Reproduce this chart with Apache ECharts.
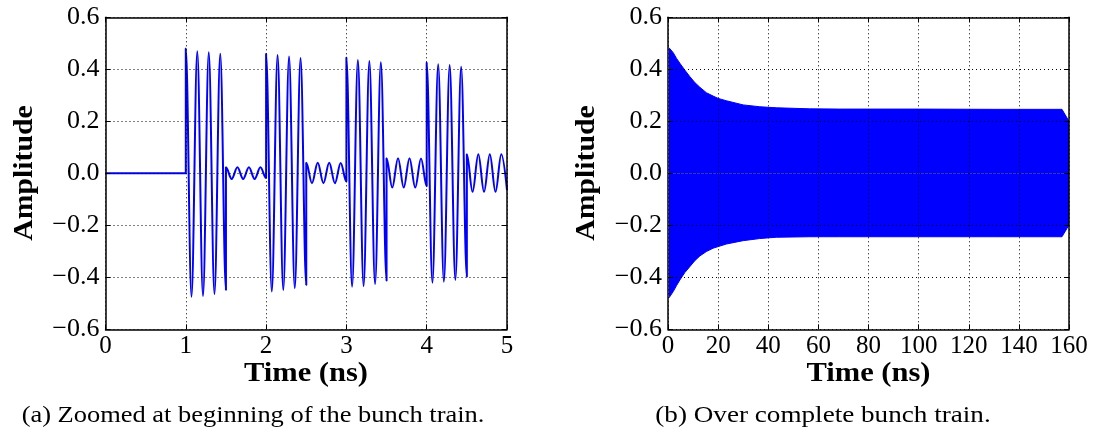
<!DOCTYPE html>
<html><head><meta charset="utf-8">
<script src="https://cdn.jsdelivr.net/npm/echarts@6/dist/echarts.min.js"></script>
<style>html,body{margin:0;padding:0;background:#fff}#c{width:1098px;height:439px}</style>
</head><body><div id="c"></div>
<script>
// ---- Panel (a): extrema of the zoomed waveform (time in ns, amplitude) ----
const zoomTime = [
  0, 1.0,
  1.0, 1.071, 1.143, 1.214, 1.286, 1.357, 1.429, 1.5,
  1.5, 1.571, 1.643, 1.714, 1.786, 1.857, 1.929, 2.0,
  2.0, 2.071, 2.143, 2.214, 2.286, 2.357, 2.429, 2.5,
  2.5, 2.571, 2.643, 2.714, 2.786, 2.857, 2.929, 3.0,
  3.0, 3.071, 3.143, 3.214, 3.286, 3.357, 3.429, 3.5,
  3.5, 3.571, 3.643, 3.714, 3.786, 3.857, 3.929, 4.0,
  4.0, 4.071, 4.143, 4.214, 4.286, 4.357, 4.429, 4.5,
  4.5, 4.571, 4.643, 4.714, 4.786, 4.857, 4.929, 5.0
];
const zoomAmp = [
  0, 0,
  0.48, -0.475, 0.469, -0.472, 0.466, -0.464, 0.46, -0.449,
  0.023, -0.022, 0.023, -0.022, 0.023, -0.022, 0.023, -0.018,
  0.46, -0.455, 0.455, -0.449, 0.449, -0.442, 0.443, -0.43,
  0.041, -0.038, 0.041, -0.038, 0.041, -0.038, 0.040, -0.032,
  0.445, -0.436, 0.436, -0.434, 0.432, -0.426, 0.427, -0.413,
  0.058, -0.055, 0.058, -0.055, 0.058, -0.055, 0.057, -0.05,
  0.426, -0.421, 0.419, -0.417, 0.417, -0.41, 0.41, -0.398,
  0.073, -0.071, 0.073, -0.071, 0.073, -0.071, 0.073, -0.065
];
// ---- Panel (b): envelope of the full bunch train ----
const fullTime  = [0.4, 0.76, 2.08, 3.4, 4.75, 6.7, 8.7, 10.7, 12.7, 15.3, 18, 20, 23.3, 30, 36.6, 43.2, 56.5, 68.4, 100, 130, 157.2, 160];
const fullUpper = [0.483, 0.481, 0.464, 0.442, 0.423, 0.397, 0.372, 0.349, 0.331, 0.310, 0.297, 0.288, 0.279, 0.263, 0.256, 0.252, 0.248, 0.247, 0.247, 0.246, 0.246, 0.2];
const fullLower = [-0.479, -0.477, -0.455, -0.432, -0.410, -0.382, -0.359, -0.336, -0.318, -0.301, -0.288, -0.282, -0.272, -0.259, -0.251, -0.246, -0.244, -0.244, -0.244, -0.244, -0.244, -0.199];
// ---- Tick labels and texts ----
const yTickLabels = ['\u22120.6', '\u22120.4', '\u22120.2', '0.0', '0.2', '0.4', '0.6'];
const xTickLabelsA = ['0', '1', '2', '3', '4', '5'];
const xTickLabelsB = ['0', '20', '40', '60', '80', '100', '120', '140', '160'];
const xTitle = 'Time (ns)';
const yTitle = 'Amplitude';
const captionA = '(a) Zoomed at beginning of the bunch train.';
const captionB = '(b) Over complete bunch train.';

const FONT = 'Liberation Serif';
const zoomData = zoomTime.map((t, i) => [t, zoomAmp[i]]);
const upperData = fullTime.map((t, i) => [t, fullUpper[i]]);
const lowerData = fullTime.map((t, i) => [t, fullLower[i]]);

const axisLine = { show: true, onZero: false, lineStyle: { color: '#000', width: 1.5 } };
const tick = { show: true, inside: true, length: 5, lineStyle: { color: '#000', width: 1 } };
const split = { show: true, lineStyle: { color: '#000', width: 1, type: [1, 3] } };

function xAxes(gi, max, interval, labels) {
  return [
    { gridIndex: gi, type: 'value', min: 0, max: max, interval: interval, position: 'bottom', z: 10,
      axisLine: axisLine, axisTick: tick, splitLine: split,
      axisLabel: { margin: 5, fontFamily: FONT, fontSize: 25, color: '#000',
        formatter: v => labels[Math.round(v / interval)] } },
    { gridIndex: gi, type: 'value', min: 0, max: max, interval: interval, position: 'top', z: 10,
      axisLine: axisLine, axisTick: tick, splitLine: { show: false }, axisLabel: { show: false } }
  ];
}
function yAxes(gi) {
  return [
    { gridIndex: gi, type: 'value', min: -0.6, max: 0.6, interval: 0.2, position: 'left', z: 10,
      axisLine: axisLine, axisTick: tick, splitLine: split,
      axisLabel: { margin: 6, fontFamily: FONT, fontSize: 26, color: '#000',
        formatter: v => yTickLabels[Math.round((v + 0.6) / 0.2)] } },
    { gridIndex: gi, type: 'value', min: -0.6, max: 0.6, interval: 0.2, position: 'right', z: 10,
      axisLine: axisLine, axisTick: tick, splitLine: { show: false }, axisLabel: { show: false } }
  ];
}

function txt(text, x, y, size, bold, rot, sx) {
  return { type: 'text', x: x, y: y, rotation: rot || 0, scaleX: sx || 1, z: 20,
    style: { text: text, font: (bold ? 'bold ' : '') + size + 'px "' + FONT + '"', fill: '#000',
      textAlign: 'center', textVerticalAlign: 'middle', align: 'center', verticalAlign: 'middle' } };
}

const chart = echarts.init(document.getElementById('c'), null, { renderer: 'canvas' });
chart.setOption({
  animation: false,
  backgroundColor: '#fff',
  grid: [
    { left: 105.5, top: 17.3, width: 401.5, height: 312 },
    { left: 668, top: 17.3, width: 401, height: 312 }
  ],
  xAxis: xAxes(0, 5, 1, xTickLabelsA).concat(xAxes(1, 160, 20, xTickLabelsB)),
  yAxis: yAxes(0).concat(yAxes(1)),
  series: [
    { type: 'line', xAxisIndex: 0, yAxisIndex: 0, data: zoomData, showSymbol: false,
      smooth: 0.36, smoothMonotone: 'x', lineStyle: { color: '#0000ff', width: 2 }, z: 2 },
    { type: 'line', xAxisIndex: 2, yAxisIndex: 2, data: upperData, showSymbol: false,
      lineStyle: { color: '#0000ff', width: 1 }, areaStyle: { color: '#0000ff', opacity: 1, origin: 0 }, z: 2 },
    { type: 'line', xAxisIndex: 2, yAxisIndex: 2, data: lowerData, showSymbol: false,
      lineStyle: { color: '#0000ff', width: 1 }, areaStyle: { color: '#0000ff', opacity: 1, origin: 0 }, z: 2 }
  ],
  graphic: [
    txt(yTitle, 25, 173, 27, true, Math.PI / 2, 1.1),
    txt(yTitle, 587, 173, 27, true, Math.PI / 2, 1.1),
    txt(xTitle, 306, 374, 28, true, 0, 1.09),
    txt(xTitle, 868.5, 374, 28, true, 0, 1.09),
    txt(captionA, 253, 416, 23, false, 0, 1.15),
    txt(captionB, 823, 416, 23, false, 0, 1.18)
  ]
});
</script></body></html>
